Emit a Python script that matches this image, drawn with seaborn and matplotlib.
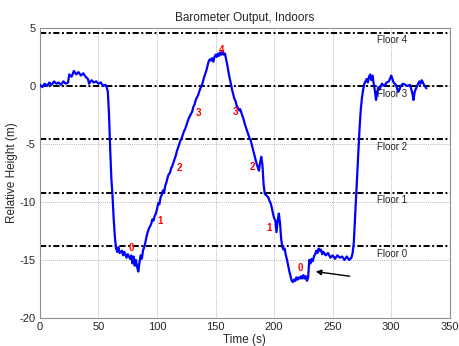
import matplotlib
matplotlib.use("Agg")
import matplotlib.pyplot as plt
import seaborn as sns
import pandas as pd

# Barometer trace: time (s) and relative height (m)
time_s = [0, 2, 4, 6, 8, 10, 12, 14, 16, 18, 20, 22, 24, 25, 27, 29, 31, 33, 35, 37,
          39, 41, 42, 44, 46, 48, 50, 52, 54, 56, 57, 58, 59, 60, 61, 62, 63, 64, 65, 66,
          67, 68, 70, 71, 72, 74, 75, 77, 78, 79, 80, 81, 82, 83, 84, 85, 86, 87, 88, 89,
          90, 91, 92, 93, 95, 96, 97, 98, 99, 100, 101, 102, 103, 104, 105, 106, 107, 108, 109, 110,
          111, 112, 113, 114, 115, 116, 117, 118, 119, 120, 121, 122, 123, 124, 125, 126, 127, 128, 129, 130,
          131, 132, 133, 134, 135, 136, 137, 138, 139, 140, 141, 142, 143, 144, 145, 146, 147, 148, 149, 150,
          151, 152, 153, 154, 155, 156, 157, 158, 159, 160, 161, 162, 163, 164, 165, 166, 167, 168, 169, 170,
          171, 172, 173, 174, 175, 176, 177, 178, 179, 180, 181, 182, 183, 184, 185, 186, 187, 188, 189, 190,
          191, 192, 193, 194, 195, 196, 197, 198, 199, 200, 201, 202, 203, 204, 205, 206, 207, 208, 209, 210,
          211, 212, 213, 214, 215, 216, 217, 218, 219, 220, 221, 222, 223, 224, 225, 226, 227, 228, 229, 230,
          231, 232, 233, 234, 235, 236, 237, 238, 239, 240, 241, 242, 244, 246, 248, 250, 252, 254, 256, 258,
          260, 262, 264, 266, 267, 268, 269, 270, 271, 272, 273, 274, 275, 276, 277, 278, 279, 280, 281, 282,
          283, 284, 285, 286, 287, 288, 289, 290, 292, 294, 296, 298, 300, 301, 302, 304, 306, 307, 308, 310,
          312, 314, 316, 318, 319, 320, 322, 324, 325, 326, 328, 330]
height_m = [0.1, -0.1, 0.2, 0.0, 0.3, 0.1, 0.4, 0.2, 0.3, 0.1, 0.4, 0.2, 0.3, 1.0, 0.8, 1.3, 1.0, 1.2, 0.9, 1.1,
            0.8, 0.6, 0.2, 0.5, 0.3, 0.4, 0.2, 0.3, 0.0, 0.1, -0.1, -0.5, -2.5, -5.5, -8.0, -9.5, -11.5, -13.0, -14.0, -14.3,
            -13.9, -14.4, -14.2, -14.6, -14.3, -14.8, -14.5, -14.9, -14.6, -15.3, -14.7, -15.5, -15.0, -15.6, -16.0, -15.2, -14.6, -14.9, -14.2, -13.9,
            -13.5, -13.0, -12.6, -12.3, -11.9, -11.5, -11.6, -11.2, -11.0, -10.6, -10.1, -10.2, -9.6, -9.4, -9.0, -9.2, -8.6, -8.3, -7.9, -7.6,
            -7.5, -7.1, -6.9, -6.6, -6.3, -6.0, -5.6, -5.3, -5.0, -4.7, -4.5, -4.2, -3.9, -3.7, -3.4, -3.1, -2.8, -2.6, -2.4, -2.2,
            -1.8, -1.6, -1.2, -1.0, -0.8, -0.5, -0.2, 0.0, 0.3, 0.7, 1.0, 1.3, 1.7, 2.1, 2.3, 2.2, 2.4, 2.1, 2.5, 2.7,
            2.5, 2.8, 2.6, 2.9, 2.7, 3.0, 2.7, 2.8, 2.3, 1.8, 1.2, 0.7, 0.2, -0.3, -0.7, -1.1, -1.3, -1.7, -1.9, -2.1,
            -2.0, -2.3, -2.6, -2.9, -3.3, -3.6, -3.9, -4.2, -4.5, -4.7, -5.1, -5.5, -5.9, -6.3, -6.7, -7.0, -7.3, -6.6, -6.1, -6.8,
            -8.5, -9.3, -9.4, -9.5, -9.6, -9.9, -10.1, -10.5, -11.0, -11.4, -11.6, -12.6, -11.6, -11.0, -11.8, -13.2, -13.9, -14.1, -14.0, -14.6,
            -15.0, -15.5, -16.0, -16.4, -16.8, -16.9, -16.7, -16.8, -16.5, -16.7, -16.5, -16.6, -16.4, -16.6, -16.3, -16.6, -16.4, -16.8, -16.5, -15.0,
            -15.3, -14.9, -15.1, -14.7, -14.5, -14.2, -14.4, -14.0, -14.2, -14.1, -14.5, -14.3, -14.6, -14.4, -14.8, -14.6, -14.9, -14.6, -14.8, -14.7,
            -15.0, -14.7, -15.0, -14.8, -14.4, -13.5, -11.5, -9.5, -7.5, -5.5, -3.5, -2.0, -1.0, -0.3, 0.2, 0.4, 0.6, 0.3, 0.8, 1.0,
            0.5, 0.9, 0.2, -0.4, -1.2, -0.5, -0.1, -0.3, 0.2, 0.0, 0.3, 0.4, 0.9, 0.6, 0.3, 0.1, -0.5, -0.3, 0.0, 0.2,
            0.1, 0.0, 0.1, -0.6, -1.2, -0.5, 0.0, 0.4, 0.2, 0.5, 0.1, -0.2]

# Floor reference levels
floor_names = ["Floor 4", "Floor 3", "Floor 2", "Floor 1", "Floor 0"]
floor_levels = [4.6, 0.0, -4.6, -9.2, -13.8]

# Floor markers along the trace
mark_text = ["0", "1", "2", "3", "4", "3", "2", "1", "0"]
mark_x = [78, 102.5, 119, 135, 155, 167, 181, 196, 222]
mark_y = [-14.0, -11.6, -7.1, -2.3, 3.1, -2.2, -7.0, -12.2, -15.7]

sns.set_style("white")
plt.rcParams["font.family"] = ["Liberation Sans", "DejaVu Sans"]
plt.rcParams["axes.unicode_minus"] = False

fig = plt.figure(figsize=(4.59, 3.46), dpi=100)
ax = fig.add_axes([0.087, 0.081, 0.893, 0.838])

df = pd.DataFrame({"Time (s)": time_s, "Relative Height (m)": height_m})
sns.lineplot(data=df, x="Time (s)", y="Relative Height (m)", color="#0000ff",
             linewidth=1.6, sort=False, estimator=None, ax=ax, zorder=3)

for name, lvl in zip(floor_names, floor_levels):
    ax.axhline(lvl, color="black", linewidth=1.4,
               linestyle=(0, (3.2, 1.3, 1.0, 1.3)), zorder=2)
    ax.text(288, lvl - 0.65, name, fontsize=7, color="#222222",
            ha="left", va="center", zorder=4)

for txt, mx, my in zip(mark_text, mark_x, mark_y):
    ax.text(mx, my, txt, color="red", fontsize=7, fontweight="bold",
            ha="center", va="center", zorder=2 if txt == "0" and mx < 100 else 4)

ax.annotate("", xy=(235.5, -16.0), xytext=(264.5, -16.4),
            arrowprops=dict(arrowstyle="-|>", color="black", lw=1.0,
                            mutation_scale=8, shrinkA=0, shrinkB=0), zorder=5)

ax.set_xlim(0, 350)
ax.set_ylim(-20, 5)
ax.set_xticks(range(0, 351, 50))
ax.set_yticks(range(-20, 6, 5))
ax.grid(True, color="#a0a0a0", linestyle=(0, (1, 1.5)), linewidth=0.6)
ax.set_axisbelow(True)
for sp in ax.spines.values():
    sp.set_color("#909090")
    sp.set_linewidth(0.8)
ax.tick_params(axis="both", labelsize=8, length=0, pad=3)
ax.set_title("Barometer Output, Indoors", fontsize=8.5, pad=5)
ax.set_xlabel("Time (s)", fontsize=8.5, labelpad=1)
ax.set_ylabel("Relative Height (m)", fontsize=8.5, labelpad=1)

fig.savefig("out.png", dpi=100)
